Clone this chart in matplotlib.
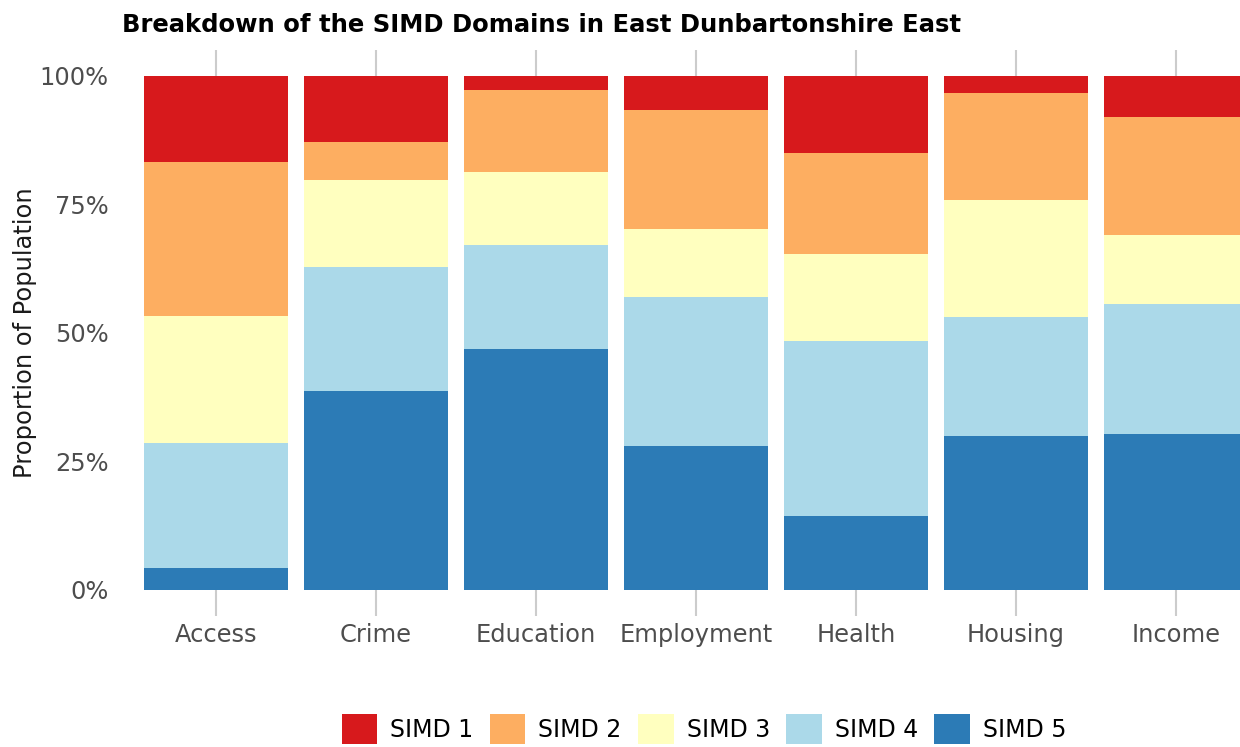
import matplotlib.pyplot as plt
from matplotlib.patches import Patch

# data (percent of population)
domains = ['Access', 'Crime', 'Education', 'Employment', 'Health', 'Housing', 'Income']
simd5 = [4.3, 38.7, 46.9, 28.0, 14.4, 30.0, 30.4]
simd4 = [24.3, 24.1, 20.2, 29.0, 34.0, 23.1, 25.2]
simd3 = [24.7, 17.0, 14.2, 13.2, 17.0, 22.8, 13.5]
simd2 = [30.0, 7.4, 16.0, 23.2, 19.6, 20.8, 22.9]
simd1 = [16.7, 12.8, 2.7, 6.6, 15.0, 3.3, 8.0]

labels = ['SIMD 1', 'SIMD 2', 'SIMD 3', 'SIMD 4', 'SIMD 5']
colors = ['#d7191c', '#fdae61', '#ffffbf', '#abd9e9', '#2c7bb6']

W, H = 1240, 747
fig = plt.figure(figsize=(W / 100, H / 100), dpi=100)
# panel runs past the right edge like the original
ax = fig.add_axes([120 / W, 1 - 615.7 / H, 1152 / W, (615.7 - 50) / H])

x = list(range(len(domains)))
ax.grid(axis='x', color='#cccccc', linewidth=1.5, zorder=0)
ax.set_axisbelow(True)

# stack from SIMD 5 at bottom up to SIMD 1
series = [simd5, simd4, simd3, simd2, simd1]
bottom = [0.0] * len(domains)
for vals, col in zip(series, colors[::-1]):
    ax.bar(x, [v / 100 for v in vals], bottom=[b / 100 for b in bottom],
           width=0.9, color=col, zorder=2)
    bottom = [b + v for b, v in zip(bottom, vals)]

ax.set_xlim(-0.6, len(domains) - 0.4)
ax.set_ylim(-0.05, 1.05)
ax.set_yticks([0, 0.25, 0.5, 0.75, 1.0])
ax.set_yticklabels(['0%', '25%', '50%', '75%', '100%'])
ax.set_xticks(x)
ax.set_xticklabels(domains)
ax.tick_params(length=0, labelsize=17.4, colors='#4d4d4d')
ax.tick_params(axis='x', pad=5)
ax.tick_params(axis='y', pad=8)
for s in ax.spines.values():
    s.set_visible(False)

ax.set_ylabel('Proportion of Population', fontsize=17.4, color='#1a1a1a', labelpad=2)

fig.text(122 / W, 1 - 25 / H, 'Breakdown of the SIMD Domains in East Dunbartonshire East',
         fontsize=17.5, fontweight='bold', va='center', ha='left')

handles = [Patch(facecolor=c, edgecolor='none') for c in colors]
fig.legend(handles, labels, loc='center', bbox_to_anchor=(704 / W, 1 - 729 / H),
           ncol=5, frameon=False, fontsize=17, handlelength=1.52, handleheight=1.52,
           handletextpad=0.55, columnspacing=0.68)

fig.savefig('out.png', dpi=100)
